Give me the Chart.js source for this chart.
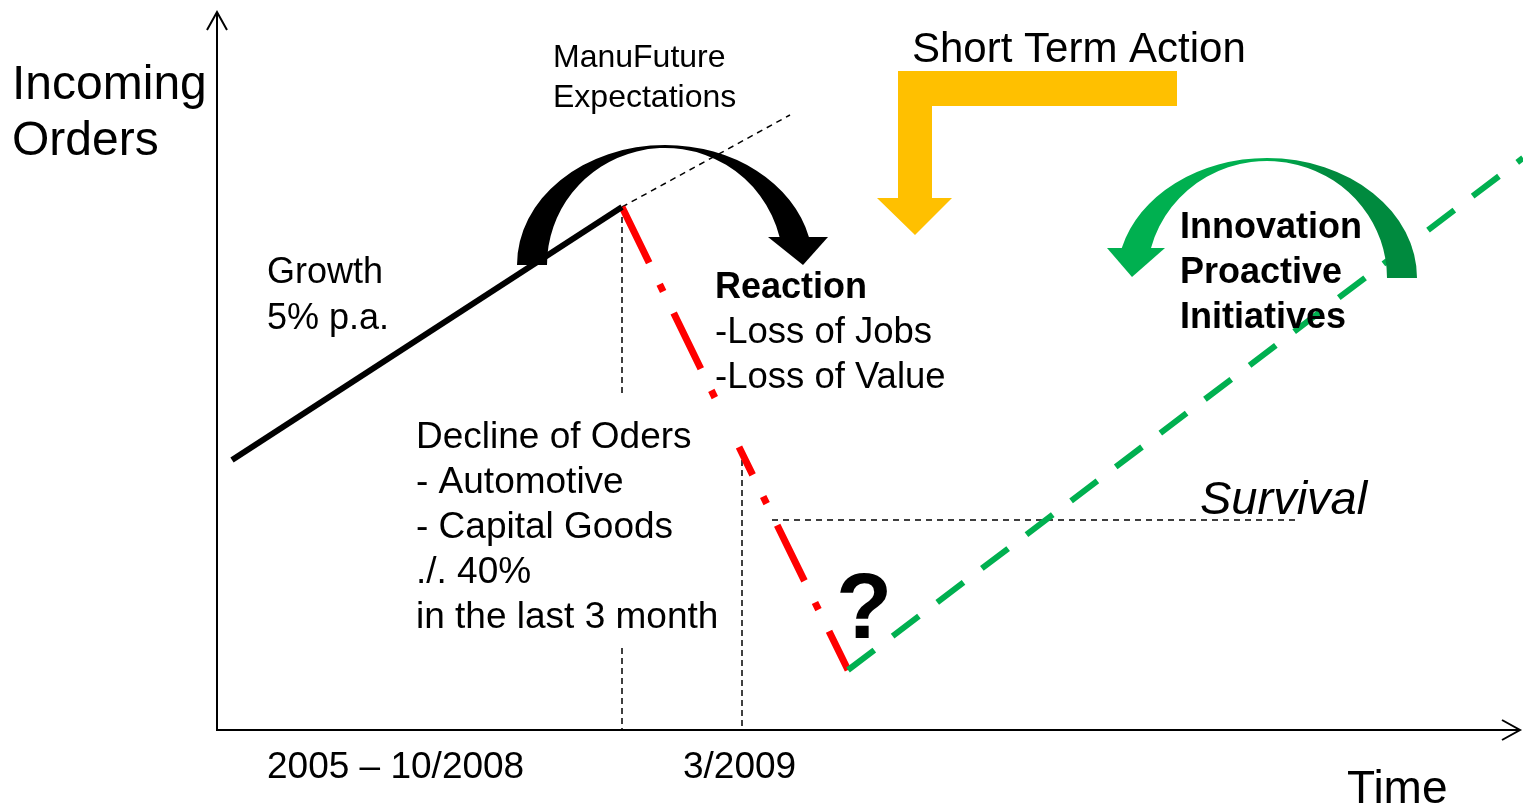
<!DOCTYPE html>
<html>
<head>
<meta charset="utf-8">
<script src="https://cdn.jsdelivr.net/npm/chart.js@4.4.1/dist/chart.umd.min.js"></script>
<style>
html, body { margin: 0; padding: 0; background: #fff; }
canvas { display: block; }
</style>
</head>
<body>
<canvas id="canvasOrders" width="1523" height="806"></canvas>
<script>
"use strict";

// chart units: time along x, incoming orders along y (origin = axis corner)
var growthX = [1.5, 40.5];
var growthY = [27.0, 52.3];

var expectX = [40.5, 57.3];
var expectY = [52.3, 61.5];

var declineX = [40.5, 49.9];
var declineY = [52.3, 33.0];
var decline2X = [52.2, 63.1];
var decline2Y = [28.3, 6.0];

var recoveryX = [63.1, 130.6];
var recoveryY = [6.0, 57.2];

var survivalX = [55.5, 108.1];
var survivalY = [21.0, 21.0];

var crisisX = [40.5, 40.5, 40.5, 40.5];
var crisisY = [52.3, 33.5, 8.2, 0];
var bottomX = [52.5, 52.5];
var bottomY = [28.0, 0];

var axisEnd = { x: 130.3, y: 71.8 };

function pts(xs, ys) {
    var out = [];
    for (var i = 0; i < xs.length; i++) out.push({ x: xs[i], y: ys[i] });
    return out;
}

var FONT = '"Liberation Sans", Arial, sans-serif';

var notes = [
    { text: 'Incoming', x: -20.5, y: 63.1, font: '48px ' + FONT },
    { text: 'Orders', x: -20.5, y: 57.5, font: '48px ' + FONT },
    { text: 'ManuFuture', x: 33.6, y: 66.3, font: '32px ' + FONT },
    { text: 'Expectations', x: 33.6, y: 62.3, font: '32px ' + FONT },
    { text: 'Short Term Action', x: 69.5, y: 66.8, font: '42px ' + FONT },
    { text: 'Growth', x: 5.0, y: 44.7, font: '36px ' + FONT },
    { text: '5% p.a.', x: 5.0, y: 40.1, font: '36px ' + FONT },
    { text: 'Reaction', x: 49.8, y: 43.2, font: 'bold 36px ' + FONT },
    { text: '-Loss of Jobs', x: 49.8, y: 38.7, font: '36.5px ' + FONT },
    { text: '-Loss of Value', x: 49.8, y: 34.2, font: '36.5px ' + FONT },
    { text: 'Decline of Oders', x: 19.9, y: 28.2, font: '37px ' + FONT },
    { text: '- Automotive', x: 19.9, y: 23.7, font: '37px ' + FONT },
    { text: '- Capital Goods', x: 19.9, y: 19.2, font: '37px ' + FONT },
    { text: './. 40%', x: 19.9, y: 14.7, font: '37px ' + FONT },
    { text: 'in the last 3 month', x: 19.9, y: 10.2, font: '37px ' + FONT },
    { text: 'Innovation', x: 96.3, y: 49.2, font: 'bold 36px ' + FONT },
    { text: 'Proactive', x: 96.3, y: 44.7, font: 'bold 36px ' + FONT },
    { text: 'Initiatives', x: 96.3, y: 40.2, font: 'bold 36px ' + FONT },
    { text: 'Survival', x: 98.3, y: 21.6, font: 'italic 47px ' + FONT },
    { text: '?', x: 61.9, y: 9.2, font: 'bold 92px ' + FONT },
    { text: '2005 \u2013 10/2008', x: 5.0, y: -4.8, font: '37px ' + FONT },
    { text: '3/2009', x: 46.6, y: -4.8, font: '37px ' + FONT },
    { text: 'Time', x: 113.0, y: -7.3, font: '46px ' + FONT }
];

// curved arrows (centre, outer and inner radii, where the arrow end is cut, head)
var reactionArrow = {
    c: { x: 44.8, y: 46.5 }, rxO: 14.8, ryO: 12.0, rxI: 11.8, ryI: 11.7, cutY: 49.3,
    head: [{ x: 55.1, y: 49.3 }, { x: 61.1, y: 49.3 }, { x: 58.6, y: 46.5 }], dir: 'right'
};
var innovationArrow = {
    c: { x: 105.0, y: 45.2 }, rxO: 15.0, ryO: 12.0, rxI: 12.0, ryI: 11.7, cutY: 48.2,
    head: [{ x: 89.0, y: 48.2 }, { x: 94.8, y: 48.2 }, { x: 91.5, y: 45.3 }], dir: 'left'
};
var shortTermArrow = [
    { x: 68.1, y: 65.9 }, { x: 96.0, y: 65.9 }, { x: 96.0, y: 62.4 }, { x: 71.5, y: 62.4 },
    { x: 71.5, y: 53.2 }, { x: 73.5, y: 53.2 }, { x: 69.8, y: 49.5 }, { x: 66.0, y: 53.2 },
    { x: 68.1, y: 53.2 }
];

function drawCurvedArrow(ctx, chart, a, fill) {
    var xs = chart.scales.x, ys = chart.scales.y;
    var cx = xs.getPixelForValue(a.c.x), cy = ys.getPixelForValue(a.c.y);
    var rxO = xs.getPixelForValue(a.c.x + a.rxO) - cx;
    var ryO = cy - ys.getPixelForValue(a.c.y + a.ryO);
    var rxI = xs.getPixelForValue(a.c.x + a.rxI) - cx;
    var ryI = cy - ys.getPixelForValue(a.c.y + a.ryI);
    var cut = cy - ys.getPixelForValue(a.cutY);
    var dO = Math.asin(cut / ryO), dI = Math.asin(cut / ryI);
    ctx.beginPath();
    if (a.dir === 'right') {
        ctx.ellipse(cx, cy, rxO, ryO, 0, Math.PI, 2 * Math.PI - dO, false);
        ctx.ellipse(cx, cy, rxI, ryI, 0, 2 * Math.PI - dI, Math.PI, true);
    } else {
        ctx.ellipse(cx, cy, rxO, ryO, 0, 0, Math.PI + dO, true);
        ctx.ellipse(cx, cy, rxI, ryI, 0, Math.PI + dI, 2 * Math.PI, false);
    }
    ctx.closePath();
    ctx.fillStyle = fill;
    ctx.fill();
    ctx.beginPath();
    a.head.forEach(function (p, i) {
        var X = xs.getPixelForValue(p.x), Y = ys.getPixelForValue(p.y);
        if (i === 0) ctx.moveTo(X, Y); else ctx.lineTo(X, Y);
    });
    ctx.closePath();
    ctx.fill();
}

var diagramPlugin = {
    id: 'diagram',
    beforeDatasetsDraw: function (chart) {
        var ctx = chart.ctx, xs = chart.scales.x, ys = chart.scales.y;
        var ox = xs.getPixelForValue(0), oy = ys.getPixelForValue(0);
        var ex = xs.getPixelForValue(axisEnd.x), ey = ys.getPixelForValue(axisEnd.y);
        ctx.save();
        ctx.strokeStyle = '#000';
        ctx.lineWidth = 2;
        ctx.beginPath();
        ctx.moveTo(ox, ey); ctx.lineTo(ox, oy); ctx.lineTo(ex, oy);
        ctx.stroke();
        ctx.beginPath();
        ctx.moveTo(ox - 10, ey + 18); ctx.lineTo(ox, ey); ctx.lineTo(ox + 10, ey + 18);
        ctx.moveTo(ex - 18, oy - 10); ctx.lineTo(ex, oy); ctx.lineTo(ex - 18, oy + 10);
        ctx.stroke();
        ctx.restore();
    },
    afterDatasetsDraw: function (chart) {
        var ctx = chart.ctx, xs = chart.scales.x, ys = chart.scales.y;
        ctx.save();

        drawCurvedArrow(ctx, chart, reactionArrow, '#000');

        var gx = xs.getPixelForValue(innovationArrow.c.x);
        var grad = ctx.createLinearGradient(gx, 0, gx + 60, 0);
        grad.addColorStop(0, '#00B050');
        grad.addColorStop(1, '#008A3E');
        drawCurvedArrow(ctx, chart, innovationArrow, grad);

        ctx.beginPath();
        shortTermArrow.forEach(function (p, i) {
            var X = xs.getPixelForValue(p.x), Y = ys.getPixelForValue(p.y);
            if (i === 0) ctx.moveTo(X, Y); else ctx.lineTo(X, Y);
        });
        ctx.closePath();
        ctx.fillStyle = '#FFC000';
        ctx.fill();

        ctx.fillStyle = '#000';
        ctx.textBaseline = 'alphabetic';
        ctx.textAlign = 'left';
        notes.forEach(function (n) {
            ctx.font = n.font;
            ctx.fillText(n.text, xs.getPixelForValue(n.x), ys.getPixelForValue(n.y));
        });
        ctx.restore();
    }
};

function lineSet(data, color, width, dash, offset) {
    return {
        data: data,
        showLine: true,
        borderColor: color,
        borderWidth: width,
        borderDash: dash || [],
        borderDashOffset: offset || 0,
        pointRadius: 0,
        tension: 0,
        fill: false
    };
}

const context = document.getElementById('canvasOrders');
const ordersChart = new Chart(context, {
    type: 'scatter',
    data: {
        datasets: [
            lineSet(pts(recoveryX, recoveryY), '#00B050', 6, [33, 23]),
            lineSet(pts(growthX, growthY), '#000', 6),
            lineSet(pts(declineX, declineY), '#FF0000', 7, [62, 24, 8, 24]),
            lineSet(pts(decline2X, decline2Y), '#FF0000', 7, [62, 24, 8, 24], 31),
            lineSet(pts(expectX, expectY), '#000', 1.5, [6, 5]),
            lineSet(pts(survivalX, survivalY), '#000', 1.5, [6, 5]),
            lineSet(pts(crisisX.slice(0, 2), crisisY.slice(0, 2)), '#000', 1.5, [6, 4]),
            lineSet(pts(crisisX.slice(2), crisisY.slice(2)), '#000', 1.5, [6, 4]),
            lineSet(pts(bottomX, bottomY), '#000', 1.5, [6, 4])
        ]
    },
    options: {
        responsive: false,
        animation: false,
        devicePixelRatio: 1,
        events: [],
        layout: { padding: 0 },
        plugins: { legend: { display: false }, tooltip: { enabled: false } },
        scales: {
            x: { type: 'linear', min: -21.7, max: 130.6, display: false },
            y: { type: 'linear', min: -7.6, max: 73.0, display: false }
        }
    },
    plugins: [diagramPlugin]
});
</script>
</body>
</html>
